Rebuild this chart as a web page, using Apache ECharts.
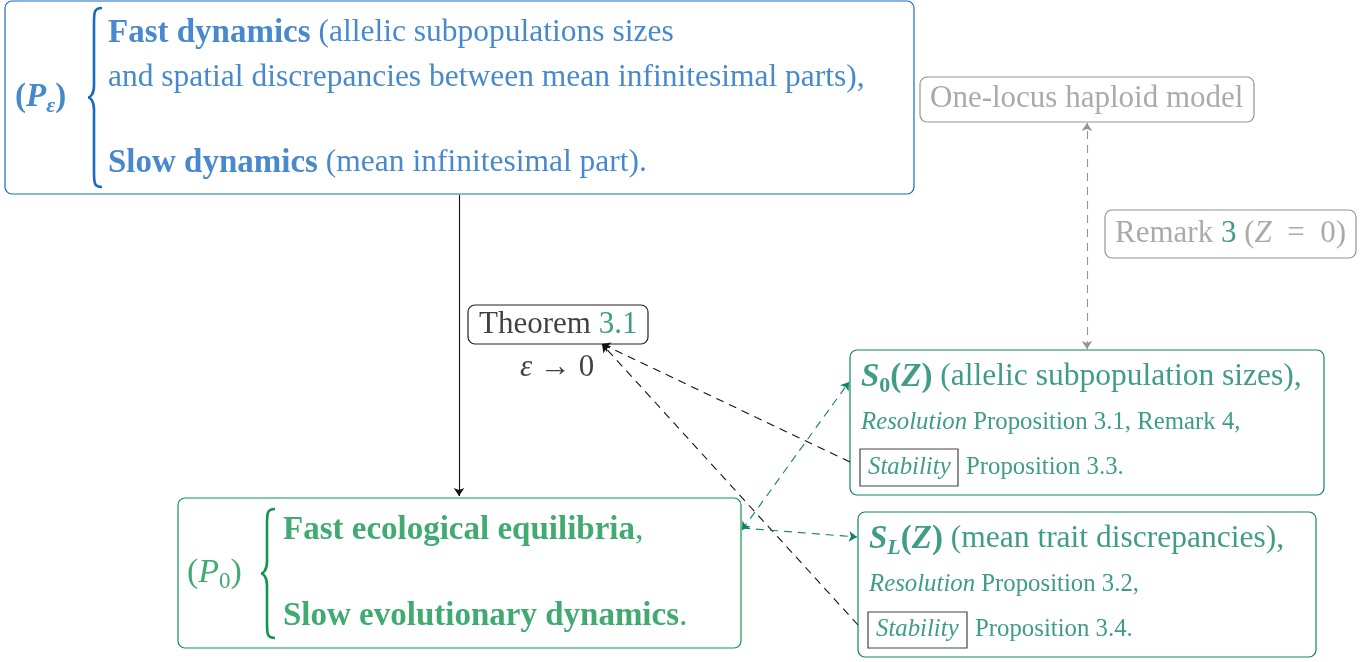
<!DOCTYPE html>
<html>
<head>
<meta charset="utf-8">
<script src="https://cdn.jsdelivr.net/npm/echarts@6/dist/echarts.min.js"></script>
<style>
  html, body { margin: 0; padding: 0; background: #fff; }
  #main { width: 1370px; height: 662px; }
</style>
</head>
<body>
<div id="main"></div>
<script>
// diagram content
const boxNames = ['P_eps', 'haploid', 'remark', 'theorem', 'S0', 'SL', 'P0', 'stab0', 'stabL']
const boxCorners = [
  [5, 1, 914, 194], [920, 77, 1254, 122], [1105, 210, 1356, 258], [468, 305, 648, 344],
  [850, 350, 1324, 495], [858, 512, 1316, 657], [178, 498, 741, 648],
  [860, 449, 958, 486], [868, 612, 967, 648]
]
const labelTexts = [
  '{bB|Fast dynamics}{bR| (allelic subpopulations sizes}',
  '{bR|and spatial discrepancies between mean infinitesimal parts),}',
  '{bB|Slow dynamics}{bR| (mean infinitesimal part).}',
  '{bB|(}{bI|P}{bSub|ε}{bB|)}',
  '{g|One-locus haploid model}',
  '{g|Remark }{t|3}{g| (}{gI|Z}{g|\u2002=\u20020)}',
  '{k|Theorem }{t|3.1}',
  '{kI|ε}{k| → 0}',
  '{tBI|S}{tSub|0}{tB|(}{tBI|Z}{tB|)}{tL| (allelic subpopulation sizes),}',
  '{tIs|Resolution}{ts| Proposition 3.1, Remark 4,}',
  '{tIs|Stability}',
  '{ts|Proposition 3.3.}',
  '{tBI|S}{tSubI|L}{tB|(}{tBI|Z}{tB|)}{tL| (mean trait discrepancies),}',
  '{tIs|Resolution}{ts| Proposition 3.2,}',
  '{tIs|Stability}',
  '{ts|Proposition 3.4.}',
  '{gr|(}{grI|P}{grSub|0}{gr|)}',
  '{grB|Fast ecological equilibria}{gr|,}',
  '{grB|Slow evolutionary dynamics}{gr|.}'
]
const labelAnchors = [
  [108, 33], [108, 78], [108, 163], [15, 97],
  [930, 99], [1115, 234], [479, 325], [520, 368],
  [861, 377], [861, 422], [868, 467], [966, 467],
  [869, 539], [869, 584], [876, 629], [975, 629],
  [187, 573], [283, 530], [283, 616]
]
const braces = [[88, 8, 187], [261, 509, 638]]
const edgeSolid = [[[459, 195], [459, 496]]]
const edgeDashedBlack = [[[850, 462], [602, 344]], [[858, 625], [602, 344]]]
const edgeTealBoth = [[[742, 530], [849, 382]]]
const edgeTealEnd = [[[742, 528], [857, 537]]]
const edgeGreyBoth = [[[1087, 349], [1087, 123]]]

const BLUE = '#196bbf'
const GREEN = '#12954c'
const TEAL = '#0f8368'
const GREY = '#959595'
const boxStroke = [BLUE, GREY, GREY, '#222', TEAL, TEAL, GREEN, '#444', '#444']
const boxRadius = [7, 7, 7, 7, 7, 7, 7, 0, 0]
const braceColor = [BLUE, GREEN]

const FONT = '"Liberation Serif", "Times New Roman", serif'
function st(color, size, weight, style, extra) {
  return Object.assign({ color: color, fontSize: size, fontWeight: weight || 'normal', fontStyle: style || 'normal', fontFamily: FONT, lineHeight: 40 }, extra || {})
}
const sub = { lineHeight: 22, verticalAlign: 'bottom' }
const rich = {
  bB: st(BLUE, 33, 'bold'),
  bR: st(BLUE, 31.5),
  bI: st(BLUE, 33, 'bold', 'italic'),
  bSub: st(BLUE, 22, 'bold', 'italic', sub),
  g: st(GREY, 31),
  gI: st(GREY, 31, 'normal', 'italic'),
  t: st(TEAL, 31),
  tL: st(TEAL, 31.5),
  k: st('#111', 31),
  kI: st('#111', 31, 'normal', 'italic'),
  tB: st(TEAL, 33, 'bold'),
  tBI: st(TEAL, 33, 'bold', 'italic'),
  tSub: st(TEAL, 22, 'bold', 'normal', sub),
  tSubI: st(TEAL, 22, 'bold', 'italic', sub),
  tIs: st(TEAL, 24.8, 'normal', 'italic'),
  ts: st(TEAL, 24.8),
  gr: st(GREEN, 34),
  grI: st(GREEN, 34, 'normal', 'italic'),
  grSub: st(GREEN, 23, 'normal', 'normal', sub),
  grB: st(GREEN, 33, 'bold')
}

const chart = echarts.init(document.getElementById('main'))

function edgeSeries(data, color, dashed, both) {
  return {
    type: 'lines',
    coordinateSystem: 'cartesian2d',
    silent: true,
    z: 5,
    symbol: both ? ['arrow', 'arrow'] : ['none', 'arrow'],
    symbolSize: 8,
    lineStyle: { color: color, width: 1.1, type: dashed ? [8, 6] : 'solid', opacity: 1 },
    data: data.map(c => ({ coords: c }))
  }
}

chart.setOption({
  animation: false,
  textStyle: { fontFamily: FONT },
  grid: { left: 0, right: 0, top: 0, bottom: 0 },
  xAxis: { type: 'value', min: 0, max: 1370, show: false },
  yAxis: { type: 'value', min: 0, max: 662, inverse: true, show: false },
  series: [
    {
      type: 'custom',
      silent: true,
      z: 2,
      data: boxCorners,
      renderItem(params, api) {
        const a = api.coord([api.value(0), api.value(1)])
        const b = api.coord([api.value(2), api.value(3)])
        return {
          type: 'rect',
          shape: { x: a[0], y: a[1], width: b[0] - a[0], height: b[1] - a[1], r: boxRadius[params.dataIndex] },
          style: { fill: '#fff', stroke: boxStroke[params.dataIndex], lineWidth: 1.2 }
        }
      }
    },
    {
      type: 'custom',
      silent: true,
      z: 3,
      data: braces,
      renderItem(params, api) {
        const x = api.value(0)
        const top = api.coord([x, api.value(1)])
        const bot = api.coord([x, api.value(2)])
        const xl = top[0], xm = xl + 6, xr = xl + 14
        const yT = top[1], yB = bot[1], ym = (yT + yB) / 2
        const d = 'M' + xr + ' ' + yT +
          ' C' + xm + ' ' + yT + ' ' + xm + ' ' + (yT + 4) + ' ' + xm + ' ' + (yT + 16) +
          ' L' + xm + ' ' + (ym - 12) +
          ' C' + xm + ' ' + (ym - 3) + ' ' + (xl + 2) + ' ' + ym + ' ' + xl + ' ' + ym +
          ' C' + (xl + 2) + ' ' + ym + ' ' + xm + ' ' + (ym + 3) + ' ' + xm + ' ' + (ym + 12) +
          ' L' + xm + ' ' + (yB - 16) +
          ' C' + xm + ' ' + (yB - 4) + ' ' + xm + ' ' + yB + ' ' + xr + ' ' + yB
        return {
          type: 'path',
          shape: { pathData: d },
          style: { fill: null, stroke: braceColor[params.dataIndex], lineWidth: 2.6 }
        }
      }
    },
    edgeSeries(edgeSolid, '#111', false, false),
    edgeSeries(edgeDashedBlack, '#111', true, false),
    edgeSeries(edgeTealBoth, TEAL, true, true),
    edgeSeries(edgeTealEnd, TEAL, true, false),
    edgeSeries(edgeGreyBoth, GREY, true, true),
    {
      type: 'scatter',
      silent: true,
      z: 10,
      symbolSize: 0,
      data: labelAnchors.map((p, i) => ({ name: labelTexts[i], value: p })),
      label: {
        show: true,
        position: 'right',
        distance: 0,
        fontFamily: FONT,
        formatter: p => p.name,
        rich: rich
      }
    }
  ]
})
</script>
</body>
</html>
